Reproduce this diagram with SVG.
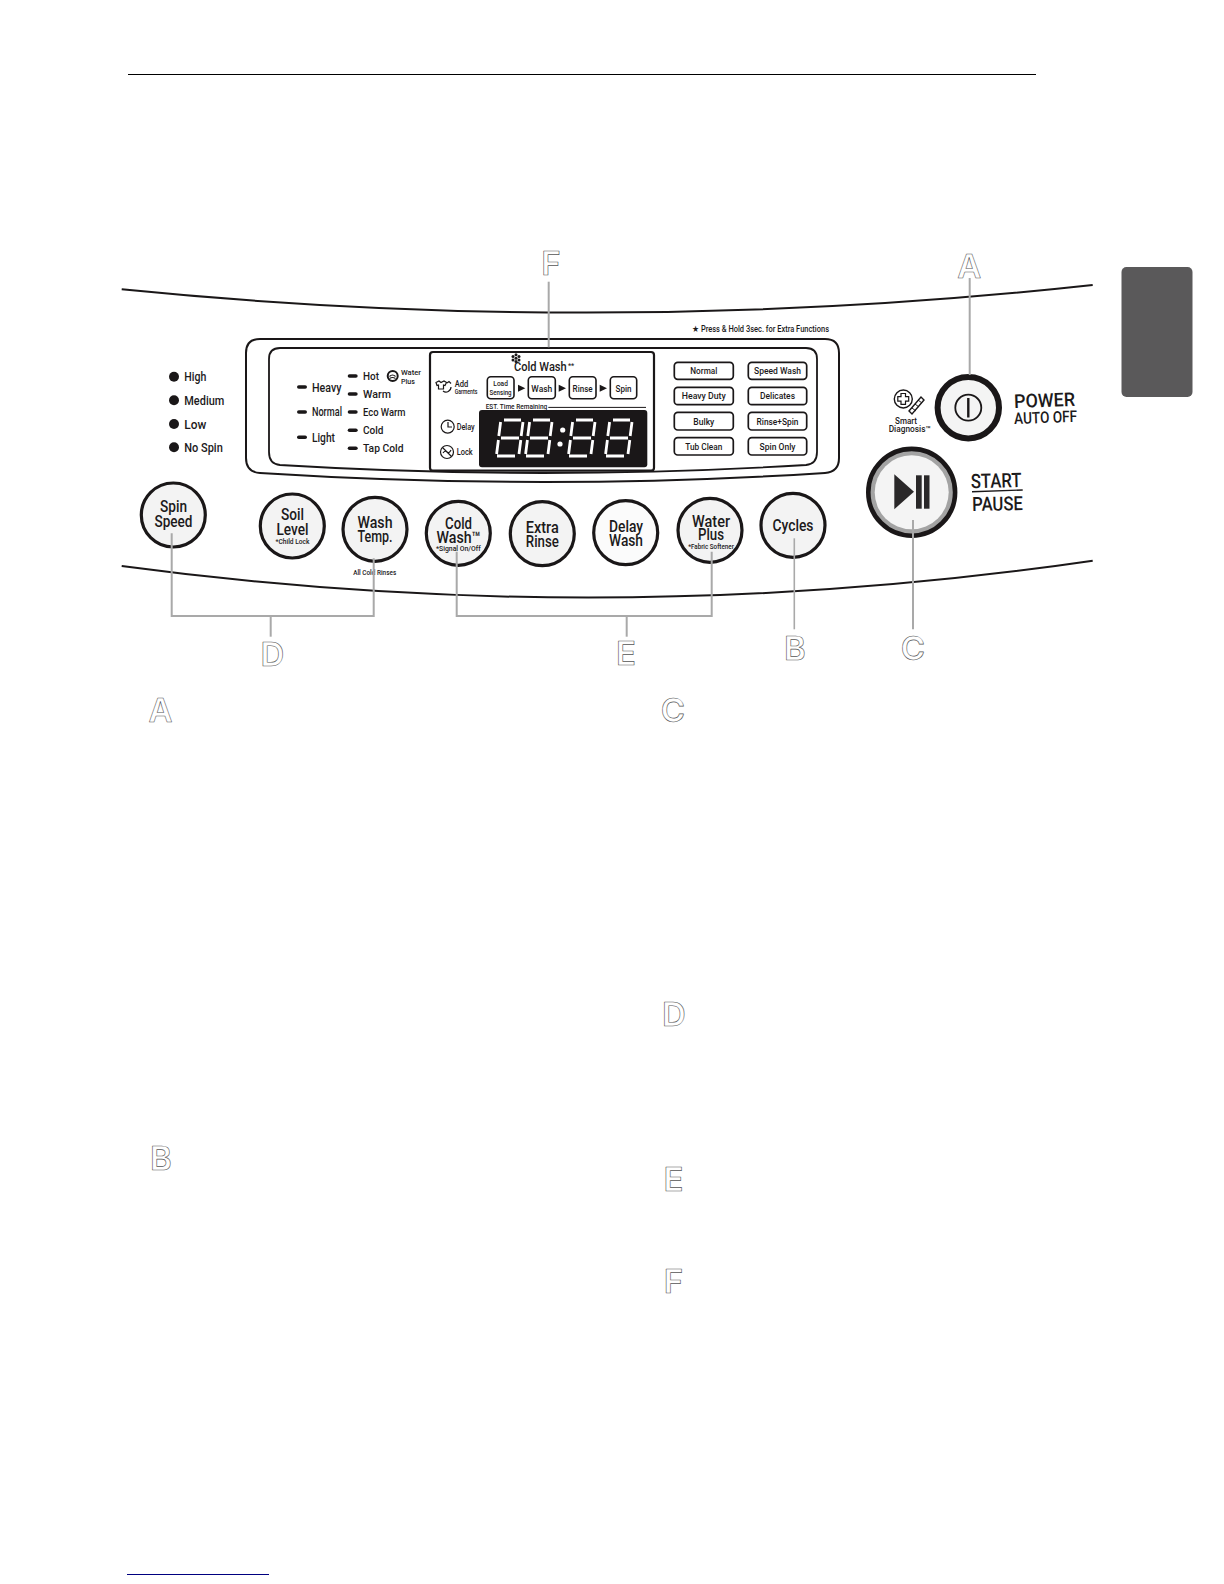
<svg xmlns="http://www.w3.org/2000/svg" xmlns:xlink="http://www.w3.org/1999/xlink" width="1224" height="1584" viewBox="0 0 1224 1584">
<style>
text{font-family:"Roboto","Liberation Sans",sans-serif;font-weight:500;fill:#1c1a1b}
.m{text-anchor:middle}
.btn{fill:#f3f3f3;stroke:#1a1718;stroke-width:3.2}
.bx{fill:#fff;stroke:#1a1718;stroke-width:1.6}
.cy{fill:#fff;stroke:#1a1718;stroke-width:1.7}
.l{font-size:12px}
.s{font-size:11.5px}
.b{font-size:16px}
.t{font-size:8px}
.ltr{font-family:"Inter","Liberation Sans",sans-serif;font-weight:600;font-size:33px;fill:#fff;stroke:#555;stroke-width:.6;stroke-linejoin:round;text-anchor:middle}
.ln{fill:none;stroke:#a9a9a9;stroke-width:2}
.dash{fill:#1a1718}
.dot{fill:#1a1718}
.curve{fill:none;stroke:#1a1718;stroke-width:2}
.seg{fill:none;stroke:#fff;stroke-width:2.8;stroke-linecap:butt}
.ic{fill:none;stroke:#1a1718;stroke-width:1.2}
</style>
<defs>
<g id="dig">
<path class="seg" d="M7,0H24M3.6,2L1.8,16M26,2L24.2,16M4,18H22M1.4,20L-.4,34M23.8,20L22,34M0,36H18"/>
</g>
</defs>

<g id="page">
<line x1="128" y1="74.5" x2="1036" y2="74.5" stroke="#000" stroke-width="1"/>
<rect id="tab" x="1121.5" y="267" width="71" height="130" rx="5" fill="#5a595a"/>
<line x1="127" y1="1574.5" x2="269" y2="1574.5" stroke="#000080" stroke-width="1.2"/>
</g>

<g id="panel">
<path class="curve" d="M121.7,289.3Q607,338 1092.7,285"/>
<path class="curve" d="M121.7,566Q607,631.6 1092.7,560.7"/>
<path fill="#fff" stroke="#1a1718" stroke-width="2" d="M260,339H825Q839,339 839,353V458Q839,472 825,473Q545,491 260,473Q246,472 246,458V353Q246,339 260,339Z"/>
<path fill="#fff" stroke="#1a1718" stroke-width="1.8" d="M280,348H806Q817,348 817,359V452Q817,464 806,465Q543,481 280,465Q269,464 269,452V359Q269,348 280,348Z"/>
<text x="692" y="332.3" font-size="8.5" textLength="137" lengthAdjust="spacingAndGlyphs">★ Press &amp; Hold 3sec. for Extra Functions</text>
</g>

<g id="spin-levels">
<circle class="dot" cx="174" cy="376.7" r="5"/><text class="l" x="184.3" y="381" textLength="22" lengthAdjust="spacingAndGlyphs">High</text>
<circle class="dot" cx="174" cy="400.3" r="5"/><text class="l" x="184.3" y="405" textLength="40" lengthAdjust="spacingAndGlyphs">Medium</text>
<circle class="dot" cx="174" cy="424" r="5"/><text class="l" x="184.3" y="428.5" textLength="22" lengthAdjust="spacingAndGlyphs">Low</text>
<circle class="dot" cx="174" cy="447.3" r="5"/><text class="l" x="184.3" y="452" textLength="38.5" lengthAdjust="spacingAndGlyphs">No Spin</text>
</g>

<g id="soil-levels">
<rect class="dash" x="297" y="385.2" width="10" height="3.6" rx="1.8"/><text class="l" x="312" y="391.5" textLength="29.5" lengthAdjust="spacingAndGlyphs">Heavy</text>
<rect class="dash" x="297" y="410.2" width="10" height="3.6" rx="1.8"/><text class="l" x="312" y="416" textLength="30" lengthAdjust="spacingAndGlyphs">Normal</text>
<rect class="dash" x="297" y="435.5" width="10" height="3.6" rx="1.8"/><text class="l" x="312" y="441.5" textLength="23" lengthAdjust="spacingAndGlyphs">Light</text>
</g>

<g id="temp-levels">
<rect class="dash" x="347.7" y="374.2" width="10" height="3.6" rx="1.8"/><text class="s" x="363" y="380" textLength="16" lengthAdjust="spacingAndGlyphs">Hot</text>
<rect class="dash" x="347.7" y="392.2" width="10" height="3.6" rx="1.8"/><text class="s" x="363" y="398" textLength="28" lengthAdjust="spacingAndGlyphs">Warm</text>
<rect class="dash" x="347.7" y="410.2" width="10" height="3.6" rx="1.8"/><text class="s" x="363" y="416" textLength="42.5" lengthAdjust="spacingAndGlyphs">Eco Warm</text>
<rect class="dash" x="347.7" y="428.5" width="10" height="3.6" rx="1.8"/><text class="s" x="363" y="434" textLength="20.5" lengthAdjust="spacingAndGlyphs">Cold</text>
<rect class="dash" x="347.7" y="446.5" width="10" height="3.6" rx="1.8"/><text class="s" x="363" y="452" textLength="40.5" lengthAdjust="spacingAndGlyphs">Tap Cold</text>
<circle cx="392.7" cy="376" r="5" fill="#fff" stroke="#1a1718" stroke-width="2"/>
<path d="M389.5,376.5q3,-3 6,0M389.5,378.5q3,-2 6,0" fill="none" stroke="#1a1718" stroke-width="1.1"/>
<text class="t" x="401" y="375" textLength="20" lengthAdjust="spacingAndGlyphs">Water</text>
<text class="t" x="401" y="383.7" textLength="14" lengthAdjust="spacingAndGlyphs">Plus</text>
</g>

<g id="display">
<rect x="430" y="352" width="224" height="118.7" rx="3" fill="#fff" stroke="#1a1718" stroke-width="2.2"/>
<g fill="#1a1718">
<circle cx="516" cy="354.8" r="1.5"/><circle cx="513" cy="356.6" r="1.5"/><circle cx="519" cy="356.6" r="1.5"/><circle cx="513" cy="360" r="1.5"/><circle cx="519" cy="360" r="1.5"/><circle cx="516" cy="358.2" r="1.5"/><circle cx="516" cy="361.6" r="1.5"/>
</g>
<text x="514" y="370.7" font-size="13.5" textLength="52.7" lengthAdjust="spacingAndGlyphs">Cold Wash</text>
<text x="568" y="368" font-size="7">**</text>

<path class="ic" d="M436,382.5l3,-1.5l2,1.5l3,-1.5l2.5,1.5l-1.5,3l-1.5,-.5v4h-5v-4l-1.5,.5z"/>
<path class="ic" d="M443,391a5,5 0 0 0 8,-4M447,383l2,-1.5l2,2"/>
<text x="454.7" y="386.7" font-size="8.5" textLength="13.5" lengthAdjust="spacingAndGlyphs">Add</text>
<text x="454.7" y="393.5" font-size="7" textLength="22.7" lengthAdjust="spacingAndGlyphs">Garments</text>

<rect class="bx" x="487.3" y="376.7" width="26.7" height="22" rx="3.5"/>
<text class="m" x="500.6" y="386.3" font-size="7.5" textLength="14.5" lengthAdjust="spacingAndGlyphs">Load</text>
<text class="m" x="500.6" y="394.8" font-size="7.5" textLength="22" lengthAdjust="spacingAndGlyphs">Sensing</text>
<path d="M518,384.8l7.3,3.5l-7.3,3.5z" fill="#1a1718"/>
<rect class="bx" x="528.3" y="376.7" width="27" height="22" rx="3.5"/>
<text class="m" x="541.8" y="391.5" font-size="9.5" textLength="21" lengthAdjust="spacingAndGlyphs">Wash</text>
<path d="M558.7,384.8l7.3,3.5l-7.3,3.5z" fill="#1a1718"/>
<rect class="bx" x="569.3" y="376.7" width="26.7" height="22" rx="3.5"/>
<text class="m" x="582.6" y="391.5" font-size="9.5" textLength="20" lengthAdjust="spacingAndGlyphs">Rinse</text>
<path d="M599.7,384.8l7.3,3.5l-7.3,3.5z" fill="#1a1718"/>
<rect class="bx" x="610.3" y="376.7" width="26.4" height="22" rx="3.5"/>
<text class="m" x="623.5" y="391.5" font-size="9.5" textLength="16" lengthAdjust="spacingAndGlyphs">Spin</text>

<text x="485.7" y="408.7" font-size="7.5" textLength="61.5" lengthAdjust="spacingAndGlyphs">EST. Time Remaining</text>
<line x1="548.3" y1="407.4" x2="646" y2="407.4" stroke="#1a1718" stroke-width="1"/>
<rect x="479" y="410" width="168.3" height="57.3" rx="3" fill="#1a1718"/>
<use xlink:href="#dig" href="#dig" x="497" y="420"/>
<use xlink:href="#dig" href="#dig" x="526" y="420"/>
<circle cx="562.7" cy="430" r="2.6" fill="#fff"/><circle cx="560" cy="444" r="2.6" fill="#fff"/>
<use xlink:href="#dig" href="#dig" x="569" y="420"/>
<use xlink:href="#dig" href="#dig" x="606" y="420"/>

<circle cx="447.7" cy="426.7" r="6.5" fill="none" stroke="#1a1718" stroke-width="1.2"/>
<path d="M448,422v5h4" class="ic"/>
<text x="456.7" y="429.5" font-size="8.5" textLength="18" lengthAdjust="spacingAndGlyphs">Delay</text>
<circle cx="447" cy="452" r="6.5" fill="none" stroke="#1a1718" stroke-width="1.2"/>
<path d="M442.5,447.5l9,9M443,453q2,-3 4,-1t4,-2" class="ic"/>
<text x="456.7" y="454.7" font-size="8.5" textLength="16" lengthAdjust="spacingAndGlyphs">Lock</text>
</g>

<g id="cycle-list">
<rect class="cy" x="674.3" y="362.3" width="59" height="17" rx="3.5"/><text class="m" x="703.8" y="374.2" font-size="9.5" textLength="27" lengthAdjust="spacingAndGlyphs">Normal</text>
<rect class="cy" x="748.3" y="362.3" width="58.4" height="17" rx="3.5"/><text class="m" x="777.5" y="374.2" font-size="9.5" textLength="47" lengthAdjust="spacingAndGlyphs">Speed Wash</text>
<rect class="cy" x="674.3" y="387.3" width="59" height="17.4" rx="3.5"/><text class="m" x="703.8" y="399.4" font-size="9.5" textLength="44" lengthAdjust="spacingAndGlyphs">Heavy Duty</text>
<rect class="cy" x="748.3" y="387.3" width="58.4" height="17.4" rx="3.5"/><text class="m" x="777.5" y="399.4" font-size="9.5" textLength="35" lengthAdjust="spacingAndGlyphs">Delicates</text>
<rect class="cy" x="674.3" y="412.3" width="59" height="17.7" rx="3.5"/><text class="m" x="703.8" y="424.5" font-size="9.5" textLength="21" lengthAdjust="spacingAndGlyphs">Bulky</text>
<rect class="cy" x="748.3" y="412.3" width="58.4" height="17.7" rx="3.5"/><text class="m" x="777.5" y="424.5" font-size="9.5" textLength="42" lengthAdjust="spacingAndGlyphs">Rinse+Spin</text>
<rect class="cy" x="674.3" y="437.7" width="59" height="17.3" rx="3.5"/><text class="m" x="703.8" y="450" font-size="9.5" textLength="37" lengthAdjust="spacingAndGlyphs">Tub Clean</text>
<rect class="cy" x="748.3" y="437.7" width="58.4" height="17.3" rx="3.5"/><text class="m" x="777.5" y="450" font-size="9.5" textLength="36" lengthAdjust="spacingAndGlyphs">Spin Only</text>
</g>

<g id="btn-spin-speed"><circle class="btn" cx="173.3" cy="515" r="32"/>
<text class="m b" x="173.5" y="512" textLength="27" lengthAdjust="spacingAndGlyphs">Spin</text><text class="m b" x="173.5" y="527" textLength="38" lengthAdjust="spacingAndGlyphs">Speed</text></g>
<g id="btn-soil-level"><circle class="btn" cx="292.3" cy="526" r="32"/>
<text class="m b" x="292.5" y="520" textLength="23" lengthAdjust="spacingAndGlyphs">Soil</text><text class="m b" x="292.5" y="535" textLength="32" lengthAdjust="spacingAndGlyphs">Level</text>
<text class="m" x="292.5" y="543.5" font-size="7.5" textLength="34" lengthAdjust="spacingAndGlyphs">*Child Lock</text></g>
<g id="btn-wash-temp"><circle class="btn" cx="375" cy="529.3" r="32"/>
<text class="m b" x="375" y="528" textLength="35" lengthAdjust="spacingAndGlyphs">Wash</text><text class="m b" x="375" y="542" textLength="35" lengthAdjust="spacingAndGlyphs">Temp.</text>
<text class="m" x="374.7" y="574.7" font-size="7.5" textLength="43" lengthAdjust="spacingAndGlyphs">All Cold Rinses</text></g>
<g id="btn-cold-wash"><circle class="btn" cx="458.3" cy="533.3" r="32"/>
<text class="m b" x="458.5" y="529" textLength="27" lengthAdjust="spacingAndGlyphs">Cold</text><text class="m b" x="458.5" y="543" textLength="44" lengthAdjust="spacingAndGlyphs">Wash™</text>
<text class="m" x="458.3" y="551" font-size="7.5" textLength="44.7" lengthAdjust="spacingAndGlyphs">*Signal On/Off</text></g>
<g id="btn-extra-rinse"><circle class="btn" cx="542.3" cy="533.7" r="32"/>
<text class="m b" x="542.3" y="533" textLength="33" lengthAdjust="spacingAndGlyphs">Extra</text><text class="m b" x="542.3" y="547" textLength="33" lengthAdjust="spacingAndGlyphs">Rinse</text></g>
<g id="btn-delay-wash"><circle class="btn" cx="625.7" cy="532.7" r="32" style="fill:#fbfbfb"/>
<text class="m b" x="626" y="532" textLength="34" lengthAdjust="spacingAndGlyphs">Delay</text><text class="m b" x="626" y="546" textLength="34" lengthAdjust="spacingAndGlyphs">Wash</text></g>
<g id="btn-water-plus"><circle class="btn" cx="710" cy="530.3" r="32"/>
<text class="m b" x="711" y="526.5" textLength="38" lengthAdjust="spacingAndGlyphs">Water</text><text class="m b" x="711" y="540" textLength="26" lengthAdjust="spacingAndGlyphs">Plus</text>
<text class="m" x="711" y="548.5" font-size="7.5" textLength="45.7" lengthAdjust="spacingAndGlyphs">*Fabric Softener</text></g>
<g id="btn-cycles"><circle class="btn" cx="793" cy="525.3" r="32"/>
<text class="m b" x="793" y="530.5" textLength="41" lengthAdjust="spacingAndGlyphs">Cycles</text></g>

<g id="btn-power">
<circle cx="968.3" cy="407.7" r="30.7" fill="#f4f4f4" stroke="#1a1718" stroke-width="6"/>
<circle cx="968.3" cy="407.7" r="13" fill="none" stroke="#1a1718" stroke-width="1.8"/>
<line x1="968.3" y1="398" x2="968.3" y2="417.5" stroke="#1a1718" stroke-width="2.4"/>
<text transform="translate(1014.3 408) rotate(-2)" font-size="19" textLength="61" lengthAdjust="spacingAndGlyphs">POWER</text>
<text transform="translate(1014.3 424) rotate(-2)" font-size="16" textLength="63" lengthAdjust="spacingAndGlyphs">AUTO OFF</text>
</g>
<g id="smart-diagnosis">
<circle cx="903.3" cy="399" r="9" fill="none" stroke="#1a1718" stroke-width="1.4"/>
<path d="M901,393.5h4.5v3.2h3.2v4.5h-3.2v3.2h-4.5v-3.2h-3.2v-4.5h3.2z" fill="#fff" stroke="#1a1718" stroke-width="1.2"/>
<path d="M909,411l12,-14 3,3 -12,14z" fill="#fff" stroke="#1a1718" stroke-width="1.4"/>
<path d="M912,408l4,3M915,404l4,3M918,400l4,3" stroke="#1a1718" stroke-width="1"/>
<text class="m" x="906" y="423.7" font-size="8.5" textLength="22" lengthAdjust="spacingAndGlyphs">Smart</text>
<text x="888.7" y="431.7" font-size="8.5" textLength="42" lengthAdjust="spacingAndGlyphs">Diagnosis™</text>
</g>
<g id="btn-start">
<circle cx="911.7" cy="492.3" r="43.4" fill="#a3a3a3" stroke="#1a1718" stroke-width="4.6"/>
<circle cx="911.7" cy="492.3" r="37" fill="#f4f4f4"/>
<path d="M894.3,474.3L914,491.8L894.3,509.3Z" fill="#2a2829"/>
<rect x="916" y="475.3" width="5.7" height="33.4" fill="#2a2829"/>
<rect x="924" y="475.3" width="5.5" height="33.4" fill="#2a2829"/>
<text transform="translate(971 488.3) rotate(-1.5)" font-size="20" textLength="50.7" lengthAdjust="spacingAndGlyphs">START</text>
<line x1="972" y1="491.7" x2="1022.7" y2="490" stroke="#1a1718" stroke-width="1.4"/>
<text transform="translate(972.3 511) rotate(-1)" font-size="19.5" textLength="50.7" lengthAdjust="spacingAndGlyphs">PAUSE</text>
</g>

<g id="connectors">
<path class="ln" d="M548.7,281.7V347.3"/>
<path class="ln" d="M969.7,278V375"/>
<path class="ln" d="M171.7,533.3V616H373.7V558.3"/>
<path class="ln" d="M270.7,616V636.7"/>
<path class="ln" d="M456.7,551.7V616H711.7V551.7"/>
<path class="ln" d="M626.7,616V636.7"/>
<path class="ln" style="stroke-width:1.6" d="M794.3,538.3V629.3"/>
<path class="ln" d="M913,520V629.3"/>
</g>

<g id="callouts">
<text class="ltr" x="551" y="275">F</text>
<text class="ltr" x="969.3" y="278.3">A</text>
<text class="ltr" x="272.5" y="665.7">D</text>
<text class="ltr" x="626" y="665">E</text>
<text class="ltr" x="795" y="660">B</text>
<text class="ltr" x="913" y="660">C</text>
</g>
<g id="section-letters">
<text class="ltr" x="160.6" y="722">A</text>
<text class="ltr" x="161" y="1170">B</text>
<text class="ltr" x="673" y="721.5">C</text>
<text class="ltr" x="674" y="1026">D</text>
<text class="ltr" x="673.5" y="1190.7">E</text>
<text class="ltr" x="673.5" y="1293">F</text>
</g>
</svg>
